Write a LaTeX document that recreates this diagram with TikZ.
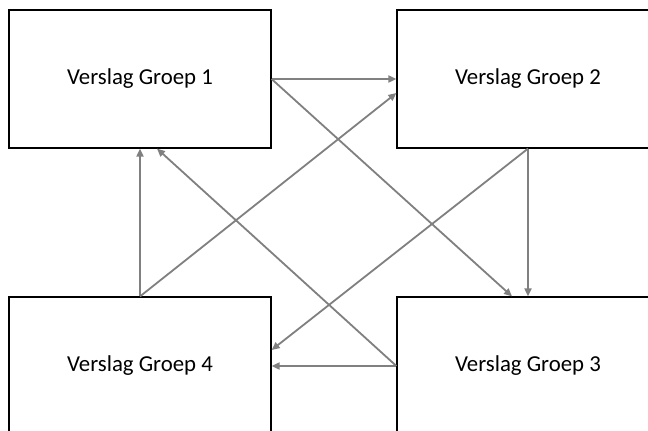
\documentclass[tikz,border=0pt]{standalone}
\usepackage{fontspec}
\setmainfont{Carlito}
\usetikzlibrary{arrows.meta,calc}
\definecolor{linkgray}{RGB}{128,128,128}
\begin{document}
\begin{tikzpicture}[x=1pt,y=-1pt,
  groupbox/.style={draw=black,line width=1.2pt,fill=white,minimum width=262pt,minimum height=138pt,inner sep=0pt,
    font=\fontsize{22.8}{27}\selectfont},
  link/.style={draw=linkgray,line width=1.8pt,-{Triangle[length=8pt,width=7pt]}}]
\useasboundingbox (0,0) rectangle (648,431);
\clip (0,0) rectangle (648,431);
\fill[white] (0,0) rectangle (648,431);
\node[groupbox] (g1) at (140,79) {Verslag Groep 1};
\node[groupbox] (g2) at (528,79) {Verslag Groep 2};
\node[groupbox] (g4) at (140,366) {Verslag Groep 4};
\node[groupbox] (g3) at (528,366) {Verslag Groep 3};
% connectors between the four reports
\draw[link] (g1.east) -- (g2.west);
\draw[link] (g1.east) -- ([xshift=-16pt]g3.north);
\draw[link] (g2.south) -- (g3.north);
\draw[link] (g2.south) -- ([yshift=16pt]g4.east);
\draw[link] (g3.west) -- (g4.east);
\draw[link] (g3.west) -- ([xshift=17pt]g1.south);
\draw[link] (g4.north) -- (g1.south);
\draw[link] (g4.north) -- ([yshift=-14pt]g2.west);
\end{tikzpicture}
\end{document}
